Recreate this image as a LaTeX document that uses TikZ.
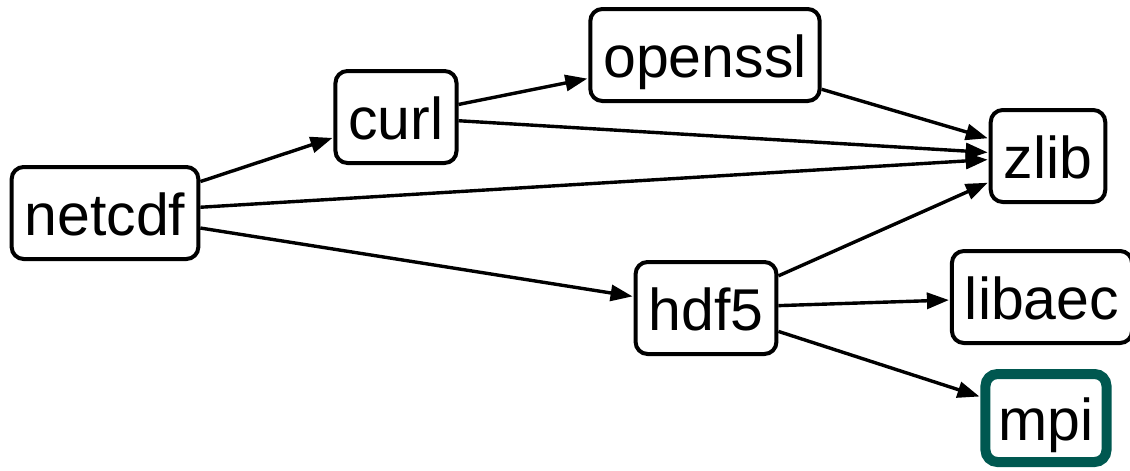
\documentclass[tikz,border=0pt]{standalone}
\usepackage{fontspec}
\setmainfont{Liberation Sans}
\usetikzlibrary{arrows.meta}
\definecolor{mpiteal}{RGB}{0,88,80}
\tikzset{
  pkg/.style={draw,line width=2pt,rounded corners=6pt,minimum height=46pt,inner xsep=6.5pt,
    text height=22pt,text depth=0pt,font=\fontsize{29.5}{35}\selectfont},
  dep/.style={-{Triangle[length=11pt,width=8pt]},line width=1.7pt,shorten >=0.5pt},
}
\begin{document}
\begin{tikzpicture}[x=0.5pt,y=-0.5pt]
        \useasboundingbox(0,0)rectangle(1130,471);

        \node[pkg](netcdf)at(105,213){netcdf};
        \node[pkg](curl)at(396,117){curl};
        \node[pkg](openssl)at(705,55){openssl};
        \node[pkg](zlib)at(1048,156){zlib};
        \node[pkg](hdf5)at(706,308){hdf5};
        \node[pkg](libaec)at(1042,297){libaec};
        \node[pkg,draw=mpiteal,line width=5pt,minimum height=44pt,minimum width=57pt](mpi)at(1046,418){mpi};

        \draw[dep](netcdf)--(curl);
        \draw[dep](netcdf)--(zlib);
        \draw[dep](netcdf)--(hdf5);
        \draw[dep](curl)--(openssl);
        \draw[dep](curl)--(zlib);
        \draw[dep](openssl)--(zlib);
        \draw[dep](hdf5)--(zlib);
        \draw[dep](hdf5)--(libaec);
        \draw[dep](hdf5)--(mpi);
    \end{tikzpicture}
\end{document}
